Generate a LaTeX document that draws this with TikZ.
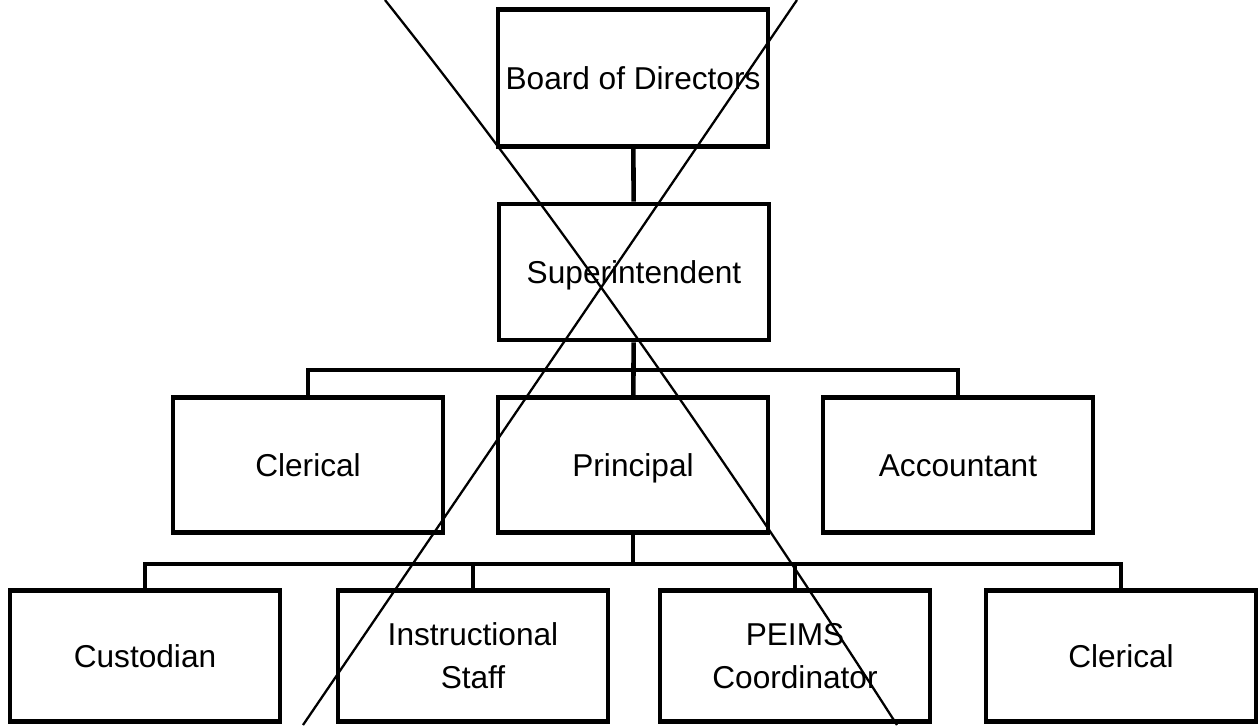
\documentclass[tikz,border=0pt]{standalone}
\usepackage{fontspec}
\setmainfont{Liberation Sans}
\usepackage{tikz}

\begin{document}
\begin{tikzpicture}

\tikzset{x=0.02cm, y=-0.02cm}
\tikzset{box/.style = {shape=rectangle, draw, line width=2.7pt, minimum width=5.4cm, inner sep=2pt, align=center, font=\fontsize{18}{24.4}\selectfont}}
\tikzset{oneline/.style = {text height=13pt, text depth=0pt}}
\tikzset{link/.style = {line width=2.6pt}}
\tikzset{cross/.style = {line width=1.3pt}}

\useasboundingbox (0,0) rectangle (1259,725);

% boxes
\node[box, oneline, minimum height=2.74cm] (board) at (633,78) {Board of Directors};
\node[box, oneline, minimum height=2.72cm] (sup) at (634,272) {Superintendent};
\node[box, oneline, minimum height=2.7cm] (cler1) at (308,465) {Clerical};
\node[box, oneline, minimum height=2.7cm] (prin) at (633,465) {Principal};
\node[box, oneline, minimum height=2.7cm] (acct) at (958,465) {Accountant};
\node[box, oneline, minimum height=2.62cm] (cust) at (145,656) {Custodian};
\node[box, minimum height=2.62cm] (instr) at (473,656) {Instructional\\Staff};
\node[box, minimum height=2.62cm] (peims) at (795,656) {PEIMS\\Coordinator};
\node[box, oneline, minimum height=2.62cm] (cler2) at (1121,656) {Clerical};

% buses
\coordinate (bus1) at (634,370);
\coordinate (bus2) at (633,564);

% links
\draw[link] (board) -- (sup);
\draw[link] (sup) -- (prin);
\draw[link] (cler1.north) |- (bus1) -| (acct.north);
\draw[link] (prin) -- (bus2);
\draw[link] (cust.north) |- (bus2) -| (cler2.north);
\draw[link] (instr.north) |- (bus2) -| (peims.north);

% cross
\coordinate (c1) at (385,0);
\coordinate (c2) at (897,725);
\coordinate (c3) at (797,0);
\coordinate (c4) at (303,725);
\draw[cross] (c1) .. controls (560,220) and (740,480) .. (c2);
\draw[cross] (c3) -- (c4);

\end{tikzpicture}
\end{document}
